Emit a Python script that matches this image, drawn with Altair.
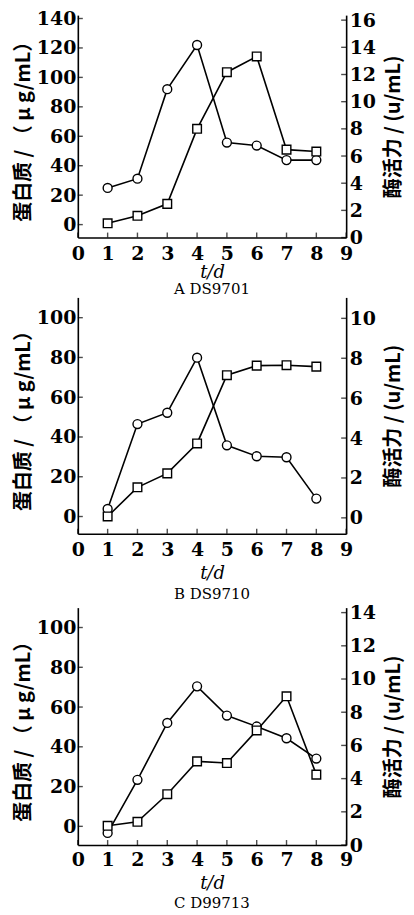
import altair as alt
import pandas as pd

days = [1, 2, 3, 4, 5, 6, 7, 8]

a_protein = [24.9, 31.2, 92.0, 122.0, 55.7, 53.7, 43.8, 43.8]
a_enzyme = [1.05, 1.6, 2.48, 8.0, 12.17, 13.33, 6.47, 6.33]

b_protein = [3.8, 46.5, 52.2, 79.9, 35.8, 30.3, 29.8, 9.0]
b_enzyme = [0.07, 1.53, 2.23, 3.73, 7.15, 7.63, 7.65, 7.58]

c_protein = [-3.3, 23.4, 52.0, 70.4, 55.7, 50.2, 44.3, 34.1]
c_enzyme = [1.16, 1.4, 3.06, 5.04, 4.94, 6.9, 8.96, 4.24]

x_ticks = [0, 1, 2, 3, 4, 5, 6, 7, 8, 9]
a_left_ticks = [0, 20, 40, 60, 80, 100, 120, 140]
a_right_ticks = [0, 2, 4, 6, 8, 10, 12, 14, 16]
b_left_ticks = [0, 20, 40, 60, 80, 100]
b_right_ticks = [0, 2, 4, 6, 8, 10]
c_left_ticks = [0, 20, 40, 60, 80, 100]
c_right_ticks = [0, 2, 4, 6, 8, 10, 12, 14]

left_title = "蛋白质 / （ μ g/mL）"
right_title = "酶活力 / (u/mL)"

NUM_FONT = "DejaVu Serif"
CJK_FONT = "Noto Sans CJK SC"


def panel(prot, enz, ldom, lticks, rdom, rticks, height, caption, lab_pad, tit_pad, cap_off):
    df = pd.DataFrame({"t": days, "protein": prot, "enzyme": enz})
    xt_df = pd.DataFrame({"v": x_ticks})
    lt_df = pd.DataFrame({"v": lticks})
    rt_df = pd.DataFrame({"v": rticks})

    xscale = alt.Scale(domain=[0, 9], nice=False)
    xaxis = alt.Axis(
        values=x_ticks,
        title="t/d",
        titleFont=NUM_FONT,
        titleFontStyle="italic",
        titleFontWeight="normal",
        titleFontSize=18,
        titlePadding=tit_pad,
        labelPadding=lab_pad,
        labelFlush=False,
    )
    lscale = alt.Scale(domain=ldom, nice=False, zero=False)
    laxis = alt.Axis(
        orient="left",
        values=lticks,
        title=left_title,
        titleFont=CJK_FONT,
        titleFontSize=20,
        titleFontWeight="bold",
        titlePadding=3,
        labelPadding=2,
        labelFlush=False,
    )
    rscale = alt.Scale(domain=rdom, nice=False, zero=False)
    raxis = alt.Axis(
        orient="right",
        values=rticks,
        title=right_title,
        titleFont=CJK_FONT,
        titleFontSize=20,
        titleFontWeight="bold",
        titleAngle=270,
        titleBaseline="top",
        titlePadding=8,
        labelPadding=3,
        labelFlush=False,
    )

    def X(field):
        return alt.X(field, type="quantitative", scale=xscale, axis=xaxis, title="t/d")

    def YL(field):
        return alt.Y(field, type="quantitative", scale=lscale, axis=laxis, title=left_title)

    def YR(field):
        return alt.Y(field, type="quantitative", scale=rscale, axis=raxis, title=right_title)

    base = alt.Chart(df)
    l_line = base.mark_line(color="black", strokeWidth=1.6).encode(x=X("t"), y=YL("protein"))
    l_pts = base.mark_point(
        shape="circle", filled=True, fill="white", stroke="black", strokeWidth=1.4, size=80, opacity=1
    ).encode(x=X("t"), y=YL("protein"))
    l_ticks = alt.Chart(lt_df).mark_tick(
        orient="horizontal", color="black", size=5, thickness=1.4, xOffset=2.5
    ).encode(x=alt.XDatum(0, scale=xscale, axis=xaxis), y=YL("v"))
    x_tk = alt.Chart(xt_df).mark_tick(
        orient="vertical", color="black", size=5, thickness=1.4, yOffset=-2.5
    ).encode(x=X("v"), y=alt.YDatum(ldom[0], scale=lscale, axis=laxis))

    r_line = base.mark_line(color="black", strokeWidth=1.6).encode(x=X("t"), y=YR("enzyme"))
    r_pts = base.mark_point(
        shape="square", filled=True, fill="white", stroke="black", strokeWidth=1.4, size=75, opacity=1
    ).encode(x=X("t"), y=YR("enzyme"))
    r_ticks = alt.Chart(rt_df).mark_tick(
        orient="horizontal", color="black", size=5, thickness=1.4, xOffset=-2.5
    ).encode(x=alt.XDatum(9, scale=xscale, axis=xaxis), y=YR("v"))

    left = alt.layer(l_ticks, x_tk, l_line, l_pts)
    right = alt.layer(r_ticks, r_line, r_pts)
    return (
        alt.layer(left, right)
        .resolve_scale(y="independent")
        .properties(
            width=269,
            height=height,
            title=alt.TitleParams(
                caption,
                orient="bottom",
                font=NUM_FONT,
                fontSize=15,
                fontWeight="normal",
                color="black",
                offset=cap_off,
            ),
        )
    )


pa = panel(a_protein, a_enzyme, [-8.8, 142.3], a_left_ticks,
           [0, 16.37], a_right_ticks, 223, "A DS9701", 7, 0, 1)
pb = panel(b_protein, b_enzyme, [-8.7, 110.2], b_left_ticks,
           [-0.8, 11.05], b_right_ticks, 237, "B DS9710", 7, 5, 4)
pc = panel(c_protein, c_enzyme, [-9.4, 110.0], c_left_ticks,
           [0, 14.3], c_right_ticks, 238, "C D99713", 6, 5, 3)

chart = (
    alt.vconcat(alt.vconcat(pa, pb, spacing=0), pc, spacing=1)
    .properties(
        padding={"left": 5, "top": 0, "right": 2, "bottom": 0},
        background="white",
    )
    .configure_view(stroke=None)
    .configure_axis(
        grid=False,
        ticks=False,
        domainColor="black",
        domainWidth=1.6,
        labelFont=NUM_FONT,
        labelFontSize=19,
        labelFontWeight="bold",
        labelColor="black",
        titleColor="black",
    )
)

chart.save("out.html", embed_options={"renderer": "svg", "actions": False})
